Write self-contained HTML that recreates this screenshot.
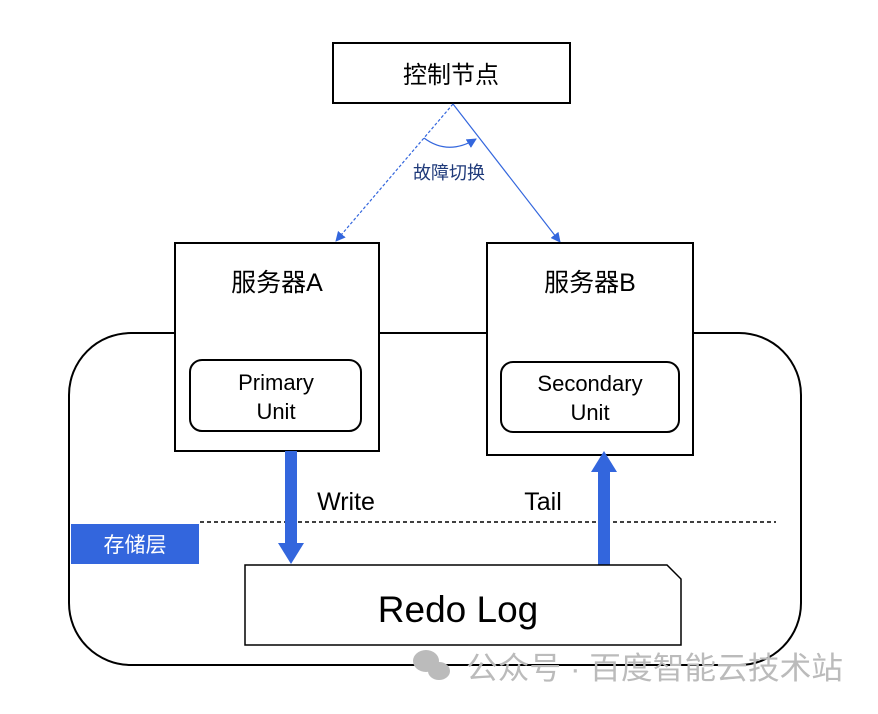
<!DOCTYPE html>
<html><head><meta charset="utf-8"><style>body{margin:0;background:#fff}svg{display:block}</style></head><body>
<svg width="878" height="714" viewBox="0 0 878 714" xmlns="http://www.w3.org/2000/svg" font-family="'Liberation Sans','Noto Sans CJK SC',sans-serif">
<defs><marker id="ah" markerWidth="10" markerHeight="10" refX="9" refY="5" orient="auto" markerUnits="userSpaceOnUse"><path d="M0,0 L10,5 L0,10 z" fill="#3366dd"/></marker></defs>
<rect x="69" y="333" width="732" height="332" rx="62" fill="none" stroke="#000" stroke-width="2"/>
<rect x="333" y="43" width="237" height="60" fill="#fff" stroke="#000" stroke-width="2"/>
<text x="451" y="83" font-size="24" text-anchor="middle">控制节点</text>
<line x1="453" y1="104" x2="336" y2="241" stroke="#3366dd" stroke-width="1.2" stroke-dasharray="3,2" marker-end="url(#ah)"/>
<line x1="453" y1="104" x2="560" y2="242" stroke="#3366dd" stroke-width="1.2" marker-end="url(#ah)"/>
<path d="M424,138 Q448,156 476,139" fill="none" stroke="#3366dd" stroke-width="1.2" marker-end="url(#ah)"/>
<text x="449" y="179" font-size="18" fill="#1f3a7a" text-anchor="middle">故障切换</text>
<rect x="175" y="243" width="204" height="208" fill="#fff" stroke="#000" stroke-width="2"/>
<rect x="487" y="243" width="206" height="212" fill="#fff" stroke="#000" stroke-width="2"/>
<text x="277" y="291" font-size="25" text-anchor="middle">服务器A</text>
<text x="590" y="291" font-size="25" text-anchor="middle">服务器B</text>
<rect x="190" y="360" width="171" height="71" rx="12" fill="#fff" stroke="#000" stroke-width="2"/>
<rect x="501" y="362" width="178" height="70" rx="12" fill="#fff" stroke="#000" stroke-width="2"/>
<text x="276" y="390" font-size="22" text-anchor="middle">Primary</text>
<text x="276" y="419" font-size="22" text-anchor="middle">Unit</text>
<text x="590" y="391" font-size="22" text-anchor="middle">Secondary</text>
<text x="590" y="420" font-size="22" text-anchor="middle">Unit</text>
<line x1="200" y1="522" x2="776" y2="522" stroke="#000" stroke-width="1.5" stroke-dasharray="4,3"/>
<rect x="71" y="524" width="128" height="40" fill="#3366dd"/>
<text x="135" y="552" font-size="21" fill="#fff" text-anchor="middle">存储层</text>
<rect x="285" y="451" width="12" height="94" fill="#3366dd"/>
<path d="M278,543 L304,543 L291,564 z" fill="#3366dd"/>
<rect x="598" y="470" width="12" height="95" fill="#3366dd"/>
<path d="M591,472 L617,472 L604,451 z" fill="#3366dd"/>
<text x="346" y="510" font-size="25" text-anchor="middle">Write</text>
<text x="543" y="510" font-size="25" text-anchor="middle">Tail</text>
<path d="M245,565 L667,565 L681,579 L681,645 L245,645 z" fill="#fff" stroke="#000" stroke-width="1.5"/>
<text x="458" y="622" font-size="37" text-anchor="middle">Redo Log</text>
<g fill="#bbb"><ellipse cx="426" cy="661" rx="13" ry="11"/><ellipse cx="439" cy="671" rx="11" ry="9"/></g>
<text x="466" y="679" font-size="31" fill="#bbb" textLength="377" lengthAdjust="spacingAndGlyphs">公众号 · 百度智能云技术站</text>
</svg>
</body></html>
